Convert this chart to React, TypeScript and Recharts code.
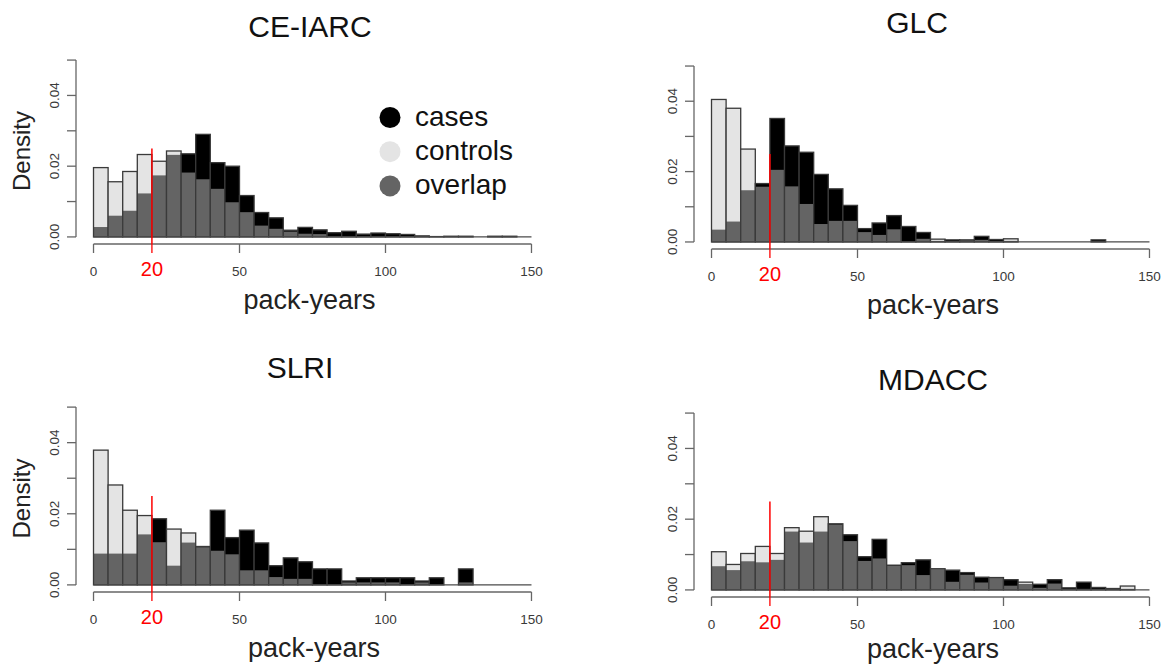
import { Bar, BarChart, Legend, ReferenceLine, XAxis, YAxis } from 'recharts'

const FONT = '"Liberation Sans", Arial, Helvetica, sans-serif'

// 5 pack-year bins, 0 to 150
const binStarts = [
  0, 5, 10, 15, 20, 25, 30, 35, 40, 45, 50, 55, 60, 65, 70, 75, 80, 85, 90, 95,
  100, 105, 110, 115, 120, 125, 130, 135, 140, 145,
]

const ceIarcCases = [
  0.0028, 0.006, 0.0074, 0.0123, 0.0174, 0.0232, 0.0235, 0.029, 0.021, 0.02,
  0.0117, 0.0069, 0.0054, 0.0019, 0.0027, 0.002, 0.0012, 0.0016, 0.0008, 0.0011,
  0.0009, 0.0007, 0.0003, 0.0001, 0.0002, 0.0002, 0, 0.0002, 0.0002, 0,
]
const ceIarcControls = [
  0.0196, 0.0156, 0.0185, 0.0233, 0.0214, 0.0243, 0.0182, 0.0163, 0.0136, 0.0098,
  0.007, 0.0032, 0.0023, 0.0015, 0.0009, 0.0008, 0.0002, 0.0002, 0.0001, 0.0001,
  0.0001, 0.0001, 0, 0, 0, 0, 0, 0, 0, 0,
]

const glcCases = [
  0.0035, 0.0058, 0.0147, 0.0166, 0.0351, 0.0273, 0.0255, 0.0192, 0.0151, 0.0104,
  0.0038, 0.0054, 0.0075, 0.0044, 0.0027, 0.0003, 0.0006, 0.0006, 0.0016, 0.0007,
  0.0003, 0, 0, 0, 0, 0, 0.0006, 0, 0, 0,
]
const glcControls = [
  0.0405, 0.038, 0.0264, 0.0157, 0.0205, 0.0158, 0.0108, 0.0051, 0.006, 0.006,
  0.0028, 0.002, 0.0036, 0, 0.0009, 0.0008, 0.0002, 0.0005, 0.0006, 0.0003,
  0.0009, 0, 0, 0, 0, 0, 0, 0, 0, 0,
]

const slriCases = [
  0.0088, 0.0088, 0.0088, 0.0142, 0.0186, 0.0054, 0.0119, 0.0108, 0.021, 0.0133,
  0.0154, 0.0118, 0.0054, 0.0076, 0.0065, 0.0045, 0.0045, 0.0011, 0.002, 0.002,
  0.002, 0.002, 0.0011, 0.002, 0, 0.0045, 0, 0, 0, 0,
]
const slriControls = [
  0.0379, 0.0281, 0.021, 0.0195, 0.012, 0.0157, 0.0146, 0.0106, 0.0096, 0.0086,
  0.0041, 0.0041, 0.0022, 0.0017, 0.0017, 0, 0, 0.0007, 0.0007, 0.0007,
  0.0007, 0, 0.0007, 0, 0, 0.0007, 0, 0, 0, 0,
]

const mdaccCases = [
  0.0067, 0.0056, 0.0081, 0.0078, 0.0085, 0.0165, 0.0134, 0.0165, 0.0187, 0.0156,
  0.0094, 0.0143, 0.007, 0.0077, 0.0085, 0.0059, 0.0056, 0.0049, 0.0036, 0.0035,
  0.0029, 0.0017, 0.0016, 0.0029, 0.0006, 0.0022, 0.0007, 0.0004, 0.0003, 0,
]
const mdaccControls = [
  0.0108, 0.0072, 0.0103, 0.0123, 0.0103, 0.0176, 0.0166, 0.0207, 0.0185, 0.0138,
  0.0082, 0.0089, 0.0068, 0.007, 0.0042, 0.006, 0.0023, 0.0043, 0.0021, 0.0034,
  0.0012, 0.0022, 0.0006, 0.0018, 0.0003, 0.0003, 0.0003, 0.0002, 0.0011, 0,
]

const xTicks = [0, 20, 50, 100, 150]
const yTicks = [0, 0.01, 0.02, 0.03, 0.04, 0.05]
const labelledYTicks = ['0.00', '0.02', '0.04']
const threshold = 20
const thresholdTop = 0.025

const casesColor = '#000000'
const controlsColor = '#e4e4e4'
const overlapColor = '#646464'
const barBorder = '#3a3a3a'
const axisColor = '#666666'
const red = '#ff0000'

const legendItems = [
  { label: 'cases', color: casesColor },
  { label: 'controls', color: controlsColor },
  { label: 'overlap', color: overlapColor },
]

const CHART_WIDTH = 550
const Y_AXIS_WIDTH = 76
const X_AXIS_HEIGHT = 70
const MARGIN = { top: 10, right: 1, left: 0, bottom: 0 }
const PLOT_WIDTH = CHART_WIDTH - Y_AXIS_WIDTH - MARGIN.right
const BIN_PX = (PLOT_WIDTH * 5) / 162

type PanelSpec = {
  title: string
  titleX: number
  titleY: number
  cases: number[]
  controls: number[]
  left: number
  top: number
  height: number
  showDensity: boolean
  showLegend: boolean
  labelShift: number
  labelDrop: number
}

const panels: PanelSpec[] = [
  {
    title: 'CE-IARC', titleX: 310, titleY: 37,
    cases: ceIarcCases, controls: ceIarcControls,
    left: 0, top: 43, height: 271,
    showDensity: true, showLegend: true, labelShift: -3, labelDrop: 65,
  },
  {
    title: 'GLC', titleX: 917, titleY: 33,
    cases: glcCases, controls: glcControls,
    left: 618, top: 49, height: 270,
    showDensity: false, showLegend: false, labelShift: 2.5, labelDrop: 65,
  },
  {
    title: 'SLRI', titleX: 300, titleY: 378,
    cases: slriCases, controls: slriControls,
    left: 0, top: 390, height: 272,
    showDensity: true, showLegend: false, labelShift: 1.5, labelDrop: 65,
  },
  {
    title: 'MDACC', titleX: 933, titleY: 390,
    cases: mdaccCases, controls: mdaccControls,
    left: 618, top: 396, height: 271,
    showDensity: false, showLegend: false, labelShift: 2.5, labelDrop: 61,
  },
]

function HistBar(props: any) {
  const { x, y, width, height, payload } = props
  if (!height || height <= 0) return <g />
  const hi = Math.max(payload.cases, payload.controls)
  const lo = Math.min(payload.cases, payload.controls)
  const overlapH = hi > 0 ? (height * lo) / hi : 0
  const left = x + width / 2 - BIN_PX / 2
  const topFill = payload.cases >= payload.controls ? casesColor : controlsColor
  return (
    <g>
      <rect x={left} y={y} width={BIN_PX} height={height} fill={topFill} />
      {overlapH > 0 && (
        <rect x={left} y={y + height - overlapH} width={BIN_PX} height={overlapH} fill={overlapColor} />
      )}
      <rect x={left} y={y} width={BIN_PX} height={height} fill="none" stroke={barBorder} strokeWidth={1.3} />
    </g>
  )
}

function XTick(props: any) {
  const { x, payload, axisY } = props
  const isThreshold = payload.value === threshold
  return (
    <g>
      <line x1={x} x2={x} y1={axisY} y2={axisY + 9} stroke={isThreshold ? red : axisColor} strokeWidth={1.3} />
      <text
        x={x}
        y={axisY + 31.6}
        textAnchor="middle"
        fontFamily={FONT}
        fontSize={isThreshold ? 20 : 13.5}
        fill={isThreshold ? red : '#3a3a3a'}
      >
        {payload.value}
      </text>
    </g>
  )
}

function YTick(props: any) {
  const { y, payload } = props
  const axisX = Y_AXIS_WIDTH
  const text = Number(payload.value).toFixed(2)
  const tx = axisX - 17
  return (
    <g>
      <line x1={axisX - 9} x2={axisX} y1={y} y2={y} stroke={axisColor} strokeWidth={1.3} />
      {labelledYTicks.includes(text) && (
        <text
          x={tx}
          y={y}
          transform={`rotate(-90 ${tx} ${y})`}
          textAnchor="middle"
          fontFamily={FONT}
          fontSize={13.5}
          fill="#3a3a3a"
        >
          {text}
        </text>
      )}
    </g>
  )
}

function LegendBox() {
  return (
    <svg width={190} height={112} style={{ overflow: 'visible' }}>
      {legendItems.map((item, i) => (
        <g key={item.label}>
          <circle cx={12} cy={16.5 + i * 34.2} r={10.5} fill={item.color} />
          <text x={37} y={25 + i * 34.2} fontFamily={FONT} fontSize={28} fill="#111">
            {item.label}
          </text>
        </g>
      ))}
    </svg>
  )
}

function HistPanel({ spec }: { spec: PanelSpec }) {
  const data = binStarts.map((start, i) => ({
    mid: start + 2.5,
    cases: spec.cases[i],
    controls: spec.controls[i],
    top: Math.max(spec.cases[i], spec.controls[i]),
  }))
  const axisY = spec.height - MARGIN.bottom - X_AXIS_HEIGHT

  return (
    <div style={{ position: 'absolute', left: spec.left, top: spec.top }}>
      <BarChart
        width={CHART_WIDTH}
        height={spec.height}
        data={data}
        margin={MARGIN}
        barCategoryGap={0}
        barGap={0}
      >
        <XAxis
          type="number"
          dataKey="mid"
          domain={[-6, 156]}
          ticks={xTicks}
          tickCount={33}
          interval={0}
          height={X_AXIS_HEIGHT}
          axisLine={false}
          tickLine={false}
          tick={(p: any) => <XTick {...p} axisY={axisY} />}
          label={(p: any) => {
            const vb = p.viewBox
            return (
              <text
                x={vb.x + vb.width / 2 + spec.labelShift}
                y={vb.y + spec.labelDrop}
                textAnchor="middle"
                fontFamily={FONT}
                fontSize={27}
                fill="#222"
              >
                pack-years
              </text>
            )
          }}
        />
        <YAxis
          type="number"
          domain={[-0.002, 0.052]}
          ticks={yTicks}
          interval={0}
          width={Y_AXIS_WIDTH}
          axisLine={false}
          tickLine={false}
          tick={(p: any) => <YTick {...p} />}
          label={
            spec.showDensity
              ? (p: any) => {
                  const vb = p.viewBox
                  const lx = vb.x + vb.width - 46
                  const ly = vb.y + vb.height / 2 + 2.5
                  return (
                    <text
                      x={lx}
                      y={ly}
                      transform={`rotate(-90 ${lx} ${ly})`}
                      textAnchor="middle"
                      fontFamily={FONT}
                      fontSize={24}
                      fill="#222"
                    >
                      Density
                    </text>
                  )
                }
              : undefined
          }
        />
        <Bar dataKey="top" isAnimationActive={false} barSize={BIN_PX - 0.02} shape={HistBar} />
        <ReferenceLine
          segment={[{ x: 0, y: 0 }, { x: 150, y: 0 }]}
          stroke="#4a4a4a"
          strokeWidth={1.2}
          ifOverflow="visible"
        />
        <ReferenceLine
          segment={[{ x: 0, y: -0.002 }, { x: 150, y: -0.002 }]}
          stroke={axisColor}
          strokeWidth={1.3}
          ifOverflow="visible"
        />
        <ReferenceLine
          segment={[{ x: -6, y: 0 }, { x: -6, y: 0.05 }]}
          stroke={axisColor}
          strokeWidth={1.3}
          ifOverflow="visible"
        />
        <ReferenceLine
          segment={[{ x: threshold, y: thresholdTop }, { x: threshold, y: -0.002 }]}
          stroke={red}
          strokeWidth={1.5}
          ifOverflow="visible"
        />
        {spec.showLegend && (
          <Legend
            layout="horizontal"
            verticalAlign="middle"
            align="center"
            wrapperStyle={{ left: 378, top: 58, width: 190, height: 112 }}
            content={() => <LegendBox />}
          />
        )}
      </BarChart>
    </div>
  )
}

export default function App() {
  return (
    <div
      style={{
        position: 'absolute',
        left: 0,
        top: 0,
        width: 1168,
        height: 666,
        overflow: 'hidden',
        background: '#ffffff',
        fontFamily: FONT,
      }}
    >
      <svg width={1168} height={666} style={{ position: 'absolute', left: 0, top: 0 }}>
        {panels.map((p) => (
          <text key={p.title} x={p.titleX} y={p.titleY} textAnchor="middle" fontFamily={FONT} fontSize={30} fill="#111">
            {p.title}
          </text>
        ))}
      </svg>
      {panels.map((p) => (
        <HistPanel key={p.title} spec={p} />
      ))}
    </div>
  )
}
